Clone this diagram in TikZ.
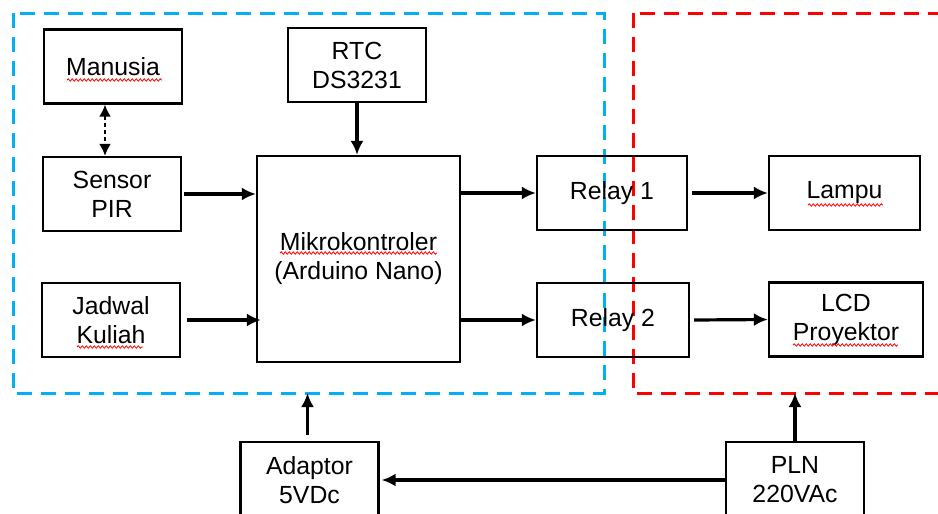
\documentclass[tikz,border=0pt]{standalone}
\usepackage{fontspec}
\setmainfont{Liberation Sans}
\usepackage{tikz}
\usetikzlibrary{arrows.meta,decorations.pathmorphing}
\definecolor{skyblue}{RGB}{0,176,240}
\definecolor{merah}{RGB}{255,0,0}

\begin{document}
\begin{tikzpicture}[x=0.5pt,y=-0.5pt,
    blok/.style={draw, line width=1.1pt, inner sep=0pt, align=center,
      minimum width=69pt, minimum height=37pt,
      font=\fontsize{12.4}{14.5}\selectfont},
    panah/.style={-{Latex[length=7pt,width=6.5pt]}, line width=1.6pt},
    garis/.style={line width=1.5pt, dash pattern=on 7.5pt off 4.5pt},
    coret/.style={merah, line width=0.4pt, decorate,
      decoration={snake, amplitude=0.6pt, segment length=2pt}}]
      \useasboundingbox (0,0) rectangle (938,514);
      % area kontrol (biru) dan area beban (merah)
      \draw [garis, skyblue] (13,13) rectangle (604,393);
      \draw [garis, merah] (633,13) rectangle (960,393);
      \coordinate (batas) at (0,393);
      % blok
      \node [blok] (manusia) at (113,66.5) {Manusia};
      \node [blok] (pir) at (112,194) {Sensor\\PIR};
      \node [blok] (jadwal) at (111,320) {Jadwal\\Kuliah};
      \node [blok] (rtc) at (357,65) {RTC\\DS3231};
      \node [blok, minimum width=101.5pt, minimum height=103pt] (mikro) at (358.5,259) {Mikrokontroler\\(Arduino Nano)};
      \node [blok, minimum width=75pt] (relay1) at (612,193) {Relay 1};
      \node [blok, minimum width=76pt] (relay2) at (613,320) {Relay 2};
      \node [blok, minimum width=75.5pt] (lampu) at (844.5,193) {Lampu};
      \node [blok, minimum width=77pt] (lcd) at (846,319.5) {LCD\\Proyektor};
      \node [blok, minimum height=38pt] (adaptor) at (309.5,480) {Adaptor\\5VDc};
      \node [blok, minimum height=38pt] (pln) at (795,480) {PLN\\220VAc};
      % garis bawah ejaan
      \draw [coret] (67,80) -- (162,80);
      \draw [coret] (77,347) -- (143,347);
      \draw [coret] (280,253) -- (437,253);
      \draw [coret] (808,205) -- (883,205);
      \draw [coret] (793,345) -- (898,345);
      % panah
      \draw [{Latex[length=6pt,width=6pt]}-{Latex[length=6pt,width=6pt]}, line width=1.1pt, dash pattern=on 2pt off 1.5pt] ([xshift=-4pt]manusia.south) -- ([xshift=-3.5pt]pir.north);
      \draw [panah] ([xshift=1pt]pir.east) -- (pir.east -| mikro.west);
      \draw [panah] ([xshift=3pt]jadwal.east) -- ([xshift=2.5pt]jadwal.east -| mikro.west);
      \draw [panah] (rtc) -- (rtc |- mikro.north);
      \draw [panah] (relay1.west -| mikro.east) -- (relay1.west);
      \draw [panah] (relay2.west -| mikro.east) -- (relay2.west);
      \draw [panah] ([xshift=2pt]relay1.east) -- (lampu.west);
      \draw [panah] ([xshift=2pt]relay2.east) -- (lcd.west);
      \draw [panah] ([xshift=-1pt,yshift=3pt]adaptor.north) -- ([xshift=-1pt]adaptor.north |- batas);
      \draw [panah] (pln.north) -- (pln.north |- batas);
      \draw [panah] (pln.west) -- ([xshift=1pt]adaptor.east);
\end{tikzpicture}
\end{document}
